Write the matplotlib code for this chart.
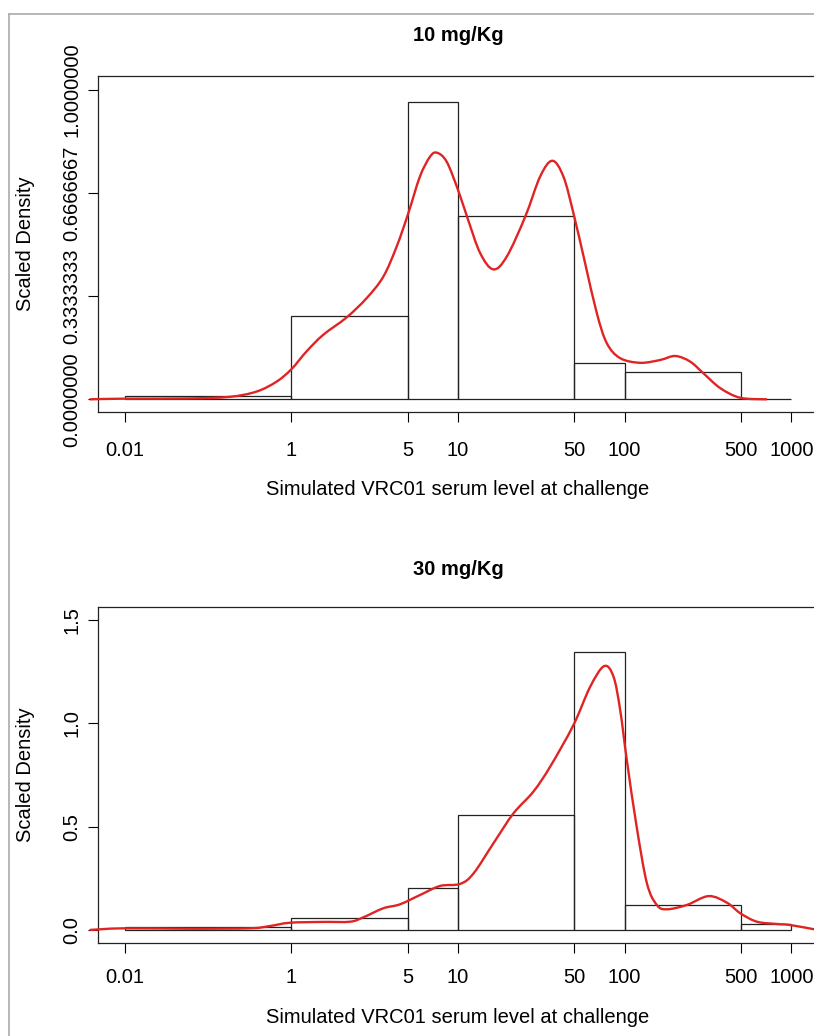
import numpy as np
import matplotlib.pyplot as plt
from matplotlib.lines import Line2D
from matplotlib.path import Path
from matplotlib.patches import PathPatch

plt.rcParams['font.family'] = ['Liberation Sans', 'DejaVu Sans']

# histogram bins and x axis ticks (serum level)
bin_edges = [0.01, 1, 5, 10, 50, 100, 500, 1000]
tick_values = [0.01, 1, 5, 10, 50, 100, 500, 1000]
tick_labels = ['0.01', '1', '5', '10', '50', '100', '500', '1000']

# bar heights (scaled density)
heights_10 = [0.011, 0.270, 0.960, 0.594, 0.118, 0.089, 0.0]
heights_30 = [0.013, 0.060, 0.205, 0.556, 1.346, 0.119, 0.030]

# smoothed density curves
curve_x_10 = [0.0038, 0.0095, 0.060, 0.182, 0.382, 0.664, 1.0, 1.23, 1.55, 2.15,
              2.83, 3.56, 4.28, 5.03, 5.91, 6.79, 7.48, 8.55, 10.0, 11.5,
              13.6, 16.3, 19.6, 25.3, 31.1, 36.8, 42.9, 49.3, 57.9, 68.1,
              78.2, 94.0, 124, 163, 201, 247, 297, 375, 494, 714]
curve_y_10 = [0.0, 0.002, 0.003, 0.008, 0.025, 0.057, 0.097, 0.154, 0.208, 0.265,
              0.327, 0.396, 0.493, 0.601, 0.720, 0.784, 0.797, 0.768, 0.677, 0.580,
              0.472, 0.420, 0.461, 0.590, 0.720, 0.771, 0.720, 0.601, 0.440, 0.278,
              0.181, 0.133, 0.118, 0.127, 0.140, 0.122, 0.084, 0.036, 0.005, 0.0]

curve_x_30 = [0.0038, 0.0095, 0.060, 0.317, 0.552, 0.96, 1.55, 2.25, 2.70, 3.56,
              4.48, 5.91, 7.80, 10.3, 12.4, 16.3, 21.5, 28.3, 35.7, 49.3,
              62.1, 75.3, 85.7, 94.0, 103, 118, 136, 156, 179, 236,
              319, 411, 494, 622, 820, 986, 1442]
curve_y_30 = [0.0, 0.008, 0.006, 0.008, 0.019, 0.035, 0.039, 0.040, 0.061, 0.105,
              0.124, 0.169, 0.213, 0.223, 0.274, 0.419, 0.564, 0.669, 0.790, 0.992,
              1.177, 1.277, 1.226, 1.064, 0.823, 0.500, 0.226, 0.121, 0.100, 0.121,
              0.164, 0.132, 0.081, 0.040, 0.029, 0.024, 0.0]


def forward(x):
    # log10 above 1, half-compressed log below 1 (0.01 sits one step left of 1)
    x = np.asarray(x, dtype=float)
    lx = np.log10(np.clip(x, 1e-12, None))
    return np.where(lx >= 0, lx, lx / 2)


def inverse(u):
    u = np.asarray(u, dtype=float)
    return np.where(u >= 0, 10.0 ** u, 10.0 ** (2 * u))


def smooth_path(xs, ys):
    # catmull-rom through the points, done in axis (log) space
    pts = np.column_stack([forward(xs), np.asarray(ys, dtype=float)])
    verts = [pts[0]]
    codes = [Path.MOVETO]
    n = len(pts)
    for i in range(n - 1):
        p0 = pts[i - 1] if i > 0 else pts[i]
        p1, p2 = pts[i], pts[i + 1]
        p3 = pts[i + 2] if i + 2 < n else pts[i + 1]
        verts += [p1 + (p2 - p0) / 6, p2 - (p3 - p1) / 6, p2]
        codes += [Path.CURVE4] * 3
    verts = np.array(verts)
    verts[:, 0] = inverse(verts[:, 0])
    return Path(verts, codes)


W, H = 814, 1036
fig = plt.figure(figsize=(W / 100, H / 100), dpi=100)

# outer grey frame of the original screenshot
fx, fy = 8.5 / W, 1 - 13.5 / H
fig.add_artist(Line2D([fx, fx], [0, fy], transform=fig.transFigure, color='#aaaaaa', lw=1.2))
fig.add_artist(Line2D([fx, 1], [fy, fy], transform=fig.transFigure, color='#aaaaaa', lw=1.2))

panels = [
    dict(title='10 mg/Kg', heights=heights_10, cx=curve_x_10, cy=curve_y_10,
         top=76, ylim=(-0.041, 1.045), yticks=[0, 1 / 3, 2 / 3, 1],
         ylabels=['0.0000000', '0.3333333', '0.6666667', '1.0000000'],
         title_y=1.122, xlab_y=-0.232, xpad=13.5),
    dict(title='30 mg/Kg', heights=heights_30, cx=curve_x_30, cy=curve_y_30,
         top=607, ylim=(-0.063, 1.563), yticks=[0, 0.5, 1.0, 1.5],
         ylabels=['0.0', '0.5', '1.0', '1.5'],
         title_y=1.113, xlab_y=-0.222, xpad=10.5),
]

fs = 14.5
for p in panels:
    ax = fig.add_axes([98 / W, 1 - (p['top'] + 336) / H, 720 / W, 336 / H])
    ax.set_xscale('function', functions=(forward, inverse))
    ax.set_xlim(inverse(-1.16), inverse(3.16))
    ax.set_ylim(*p['ylim'])

    left = np.array(bin_edges[:-1])
    right = np.array(bin_edges[1:])
    ax.bar(left, p['heights'], width=right - left, align='edge',
           fill=False, edgecolor='#222222', linewidth=0.9)
    ax.add_patch(PathPatch(smooth_path(p['cx'], p['cy']), fill=False,
                           edgecolor='#e02424', lw=1.7, clip_on=False, zorder=3))

    ax.set_xticks(tick_values)
    ax.set_xticklabels(tick_labels)
    ax.xaxis.set_minor_locator(plt.NullLocator())
    ax.set_yticks(p['yticks'])
    ax.set_yticklabels(p['ylabels'], rotation=90, va='center')

    ax.tick_params(axis='x', length=7.2, width=0.8, pad=p['xpad'], labelsize=fs)
    ax.tick_params(axis='y', length=7.2, width=0.8, pad=5, labelsize=fs)
    for s in ax.spines.values():
        s.set_linewidth(0.9)
        s.set_color('#222222')

    ax.set_title(p['title'], fontsize=fs, fontweight='bold', y=p['title_y'],
                 va='center', pad=0)
    ax.set_xlabel('Simulated VRC01 serum level at challenge', fontsize=fs, va='center')
    ax.xaxis.set_label_coords(0.5, p['xlab_y'])
    ax.set_ylabel('Scaled Density', fontsize=fs, va='center')
    ax.yaxis.set_label_coords(-0.101, 0.5)

fig.savefig('out.png', dpi=100)
